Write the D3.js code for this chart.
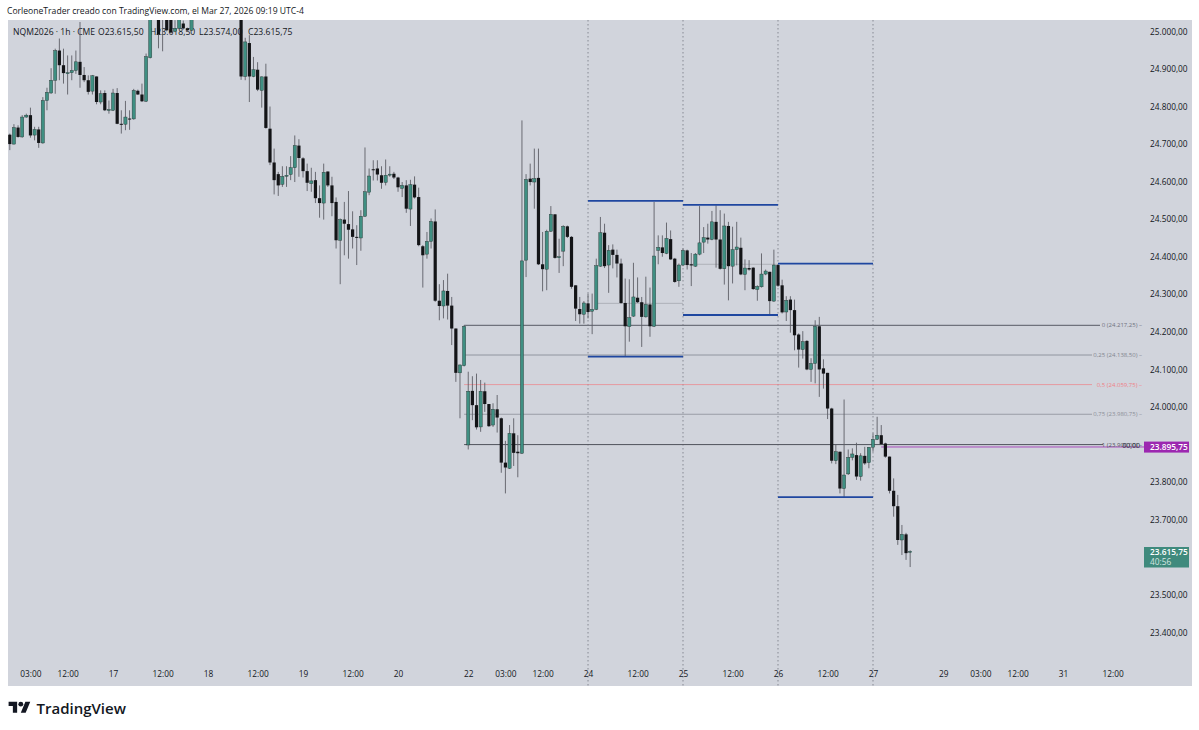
<!DOCTYPE html>
<html><head><meta charset="utf-8">
<script src="https://cdn.jsdelivr.net/npm/d3@7"></script>
<style>html,body{margin:0;padding:0;background:#fff}svg{display:block}text{font-family:"Open Sans","DejaVu Sans",sans-serif}</style>
</head><body><div id="c"></div>
<script>
const opens=[24725,24700,24744,24719,24772,24777,24724,24739,24703,24816,
24836,24870,24949,24910,24889,24890,24896,24919,24884,24870,
24841,24880,24812,24836,24790,24790,24836,24754,24753,24768,
24767,24842,24832,24814,24930,25060,25045,25040,25050,25050,
25000,25008,25021,25008,25003,25060,25090,25120,25140,25110,25130,25160,25150,25120,25100,25080,
25070,24880,24969,24880,
24898,24843,24880,24741,24651,24620,24593,24615,24619,24637,
24696,24662,24628,24595,24604,24556,24543,24627,24590,24546,
24444,24499,24487,24473,24453,24450,24508,24572,24633,24635,
24617,24598,24618,24621,24611,24582,24590,24527,24592,24559,
24428,24407,24441,24494,24283,24269,24309,24270,24209,24091,
24110,23899,24043,24005,23947,24042,24008,23952,23994,23970,
23852,23837,23930,23881,23877,24391,24608,24599,24610,24380,
24367,24468,24513,24398,24415,24481,24453,24324,24261,24247,
24276,24255,24260,24375,24464,24378,24419,24405,24382,24277,
24214,24242,24291,24279,24240,24273,24215,24417,24425,24409,
24447,24395,24336,24378,24417,24380,24375,24407,24439,24451,
24446,24493,24446,24368,24482,24375,24419,24424,24353,24370,
24371,24313,24320,24354,24360,24282,24378,24324,24253,24286,
24258,24193,24153,24176,24100,24116,24215,24103,24091,23996,
23857,23881,23783,23822,23866,23872,23815,23870,23852,23893,
23914,23925,23903,23868,23777,23736,23646,23661,23615.5];
const highs=[24728,24753,24750,24777,24781,24797,24746,24746,24825,24850,
24902,24954,24981,24954,24936,24936,24949,25025,24905,24883,
24884,24880,24843,24843,24816,24847,24849,24790,24815,24790,
24847,24845,24861,24941,25070,25090,25070,25080,25070,25070,
25030,25060,25029,25010,25060,25095,25125,25150,25160,25145,25170,25180,25175,25150,25125,25100,
25090,24983,24990,24932,
24918,24880,24914,24800,24688,24626,24641,24641,24668,24723,
24713,24665,24648,24637,24626,24590,24648,24627,24613,24558,
24502,24546,24575,24521,24484,24524,24691,24635,24657,24657,
24641,24659,24641,24626,24613,24599,24604,24605,24614,24584,
24431,24466,24502,24526,24327,24338,24355,24293,24209,24113,
24218,24094,24082,24089,24072,24065,24008,24010,24032,23972,
23910,23952,23970,23925,24763,24620,24648,24688,24688,24466,
24472,24535,24513,24448,24484,24483,24455,24324,24293,24282,
24302,24302,24395,24506,24488,24431,24433,24419,24395,24342,
24340,24384,24345,24293,24347,24318,24546,24457,24457,24491,
24470,24397,24382,24422,24419,24410,24410,24535,24479,24488,
24522,24537,24524,24515,24493,24480,24493,24451,24393,24391,
24372,24324,24409,24366,24360,24419,24380,24339,24295,24295,
24286,24196,24202,24178,24130,24231,24240,24127,24091,23998,
23899,23881,24020,23887,23890,23905,23877,23894,23893,23930,
23974,23952,23905,23868,23810,23766,23686,23665,23618.5];
const lows=[24684,24699,24717,24717,24770,24717,24710,24690,24701,24790,
24834,24834,24870,24861,24832,24870,24887,24850,24865,24832,
24832,24806,24806,24788,24781,24788,24753,24728,24737,24738,
24765,24831,24812,24812,24928,25040,24955,24947,25000,24994,
24998,25006,25005,25000,25001,25040,25070,25095,25110,25085,25100,25125,25110,25090,25070,25060,
24871,24870,24812,24878,
24841,24797,24741,24644,24566,24562,24586,24586,24604,24599,
24613,24611,24575,24573,24543,24504,24499,24586,24508,24422,
24327,24404,24395,24422,24378,24416,24506,24564,24603,24603,
24581,24590,24613,24607,24573,24559,24517,24482,24555,24428,
24318,24395,24422,24280,24231,24236,24233,24165,24067,23970,
24108,23887,23965,23940,23934,23987,23947,23947,23932,23825,
23770,23835,23843,23813,23875,24346,24590,24528,24378,24308,
24311,24466,24395,24357,24375,24450,24315,24229,24222,24222,
24236,24194,24258,24373,24370,24304,24369,24345,24275,24134,
24174,24240,24277,24160,24238,24187,24213,24380,24400,24407,
24392,24331,24320,24375,24366,24322,24373,24404,24410,24435,
24444,24371,24366,24326,24284,24329,24377,24351,24311,24363,
24312,24283,24318,24351,24245,24280,24320,24249,24229,24198,
24151,24105,24129,24098,24067,24063,24027,24049,23968,23850,
23848,23770,23760,23819,23858,23806,23804,23846,23837,23881,
23912,23900,23865,23770,23708,23633,23606,23593,23574];
const closes=[24700,24744,24719,24772,24777,24723,24739,24703,24816,24838,
24870,24949,24910,24889,24890,24896,24919,24884,24870,24839,
24882,24812,24834,24790,24792,24836,24754,24753,24772,24766,
24843,24832,24814,24933,25060,25075,24992,25050,25003,24997,
25008,25050,25008,25003,25050,25090,25120,25140,25110,25130,25160,25150,25120,25100,25080,25070,
24880,24972,24880,24898,
24845,24879,24743,24651,24604,24590,24614,24617,24637,24696,
24663,24628,24597,24602,24556,24543,24625,24590,24543,24444,
24499,24488,24472,24453,24451,24508,24573,24615,24631,24619,
24597,24617,24620,24611,24585,24590,24528,24592,24558,24431,
24404,24441,24494,24283,24269,24309,24270,24209,24091,24112,
24215,24042,24005,23946,24042,24008,23949,23994,23972,23852,
23839,23930,23878,23877,24389,24606,24599,24608,24380,24367,
24468,24513,24397,24400,24481,24453,24320,24262,24247,24277,
24253,24260,24376,24464,24375,24417,24405,24382,24277,24215,
24238,24293,24279,24240,24273,24215,24402,24425,24410,24449,
24393,24333,24378,24417,24378,24377,24407,24437,24451,24446,
24493,24446,24368,24482,24375,24419,24426,24353,24370,24366,
24314,24321,24354,24362,24282,24378,24323,24252,24284,24258,
24191,24153,24174,24100,24116,24215,24100,24089,23996,23857,
23881,23783,23819,23866,23875,23815,23870,23850,23893,23914,
23925,23901,23868,23777,23736,23646,23661,23611,23615.75];

const timeTickBars=[5,14,25,37,48,60,71,83,94,111,120,129,140,152,163,175,186,198,209,226,235,244,255,267];
const timeTickLabels=["03:00","12:00","17","12:00","18","12:00","19","12:00","20","22","03:00","12:00","24","12:00","25","12:00","26","12:00","27","29","03:00","12:00","31","12:00"];
const priceTicks=[25000,24900,24800,24700,24600,24500,24400,24300,24200,24100,24000,23800,23700,23600,23500,23400];
const dayLineBars=[140,163,186,209];
const rangeStartBars=[140,163,186];
const rangeEndBars=[163,186,209];
const rangeHighs=[24549,24538,24382];
const rangeLows=[24134,24245,23760];
const rangeMids=[24276,24380];
const fibPrices=[24217.25,24138.5,24059.75,23980.75,23900];
const fibLabels=["0 (24.217,25)","0,25 (24.138,50)","0,5 (24.059,75)","0,75 (23.980,75)","1 (23.900,00)"];
const fibColors=["#6f727c","#82858f","#ef7f86","#8c8f98","#50535c"];
const fibWidths=[1.1,0.8,0.7,0.8,1];
const legendParts=["NQM2026 · 1h · CME","O23.615,50","H23.618,50","L23.574,00","C23.615,75"];
const lastPrice=23615.75;
const markPrice=23895.75;

const W=1199,H=730,pane={l:8,r:1192,t:20,b:686};
const x=d3.scaleLinear().domain([0,209]).range([9.8,873]);
const y=d3.scaleLinear().domain([25000,23400]).range([31.4,632.4]);
const svg=d3.select("#c").append("svg").attr("width",W).attr("height",H);
svg.append("rect").attr("x",pane.l).attr("y",pane.t).attr("width",pane.r-pane.l).attr("height",pane.b-pane.t).attr("fill","#d1d4dc");
svg.append("clipPath").attr("id","p").append("rect").attr("x",pane.l).attr("y",pane.t).attr("width",pane.r-pane.l).attr("height",pane.b-pane.t);

// header
svg.append("text").attr("x",7).attr("y",14).attr("font-size",8.6).attr("fill","#131722").text("CorleoneTrader creado con TradingView.com, el Mar 27, 2026 09:19 UTC-4");
const legendX=[13,98,150,199,248];
svg.selectAll(".lg").data(legendParts).join("text").attr("x",(d,i)=>legendX[i]).attr("y",34.5).attr("font-size",8.6).attr("fill","#131722").text(d=>d);

const g=svg.append("g").attr("clip-path","url(#p)");
// day separators
g.selectAll(".day").data(dayLineBars).join("line").attr("x1",d=>x(d)).attr("x2",d=>x(d)).attr("y1",pane.t).attr("y2",pane.b)
 .attr("stroke","#868993").attr("stroke-width",1).attr("stroke-dasharray","1.5 2.5");
// faint midlines
const midStart=[142,163];
g.selectAll(".mid").data(rangeMids).join("line").attr("x1",(d,i)=>x(midStart[i])).attr("x2",(d,i)=>x(rangeEndBars[i])).attr("y1",d=>y(d)).attr("y2",d=>y(d)).attr("stroke","#a6a8b0").attr("stroke-width",.8);
// fib
g.selectAll(".fib").data(fibPrices).join("line").attr("x1",x(110)).attr("x2",(d,i)=>i==0?1100:(i==4?1103:1092)).attr("y1",d=>y(d)).attr("y2",d=>y(d))
 .attr("stroke",(d,i)=>fibColors[i]).attr("stroke-width",(d,i)=>fibWidths[i]);
svg.selectAll(".fl").data(fibPrices).join("text").attr("x",1142).attr("y",d=>y(d)+2).attr("text-anchor","end").attr("font-size",6).attr("fill",(d,i)=>fibColors[i]).text((d,i)=>fibLabels[i]+" –");
svg.append("text").attr("x",1140).attr("y",y(23895.75)+1.5).attr("text-anchor","end").attr("font-size",7).attr("fill","#2a2e39").text("00,00");
// purple
g.append("line").attr("x1",x(211)).attr("x2",1146).attr("y1",y(markPrice)+.8).attr("y2",y(markPrice)+.8).attr("stroke","#9c27b0").attr("stroke-width",.8);

// candles
const idx=d3.range(opens.length);
const cg=g.append("g");
cg.selectAll(".w").data(idx).join("line").attr("x1",i=>x(i)).attr("x2",i=>x(i)).attr("y1",i=>y(highs[i])).attr("y2",i=>y(lows[i])).attr("stroke","#5d5f66").attr("stroke-width",.9);
cg.selectAll(".b").data(idx).join("rect").attr("x",i=>x(i)-1.6).attr("width",3.2)
 .attr("y",i=>y(Math.max(opens[i],closes[i])))
 .attr("height",i=>Math.max(1,Math.abs(y(opens[i])-y(closes[i]))))
 .attr("fill",i=>closes[i]>=opens[i]?"#3f8f82":"#131417")
 .attr("stroke",i=>closes[i]>=opens[i]?"#24312f":"none").attr("stroke-width",.4);

// ranges
[0,1,2].forEach(k=>{
 [rangeHighs[k],rangeLows[k]].forEach(v=>{
  g.append("line").attr("x1",x(rangeStartBars[k])).attr("x2",x(rangeEndBars[k])).attr("y1",y(v)).attr("y2",y(v)).attr("stroke","#1f47a0").attr("stroke-width",1.8);
 });
});

// axes
const fmt=d3.formatLocale({decimal:",",thousands:".",grouping:[3]}).format(",.2f");
const ax=svg.append("g").attr("transform",`translate(1150,0)`).call(d3.axisRight(y).tickValues(priceTicks).tickSize(0).tickPadding(0).tickFormat(fmt));
ax.select(".domain").remove();
ax.selectAll("text").attr("font-size",8.3).attr("fill","#131722").attr("font-family",'"Open Sans",sans-serif');
const bx=svg.append("g").attr("transform",`translate(0,671.5)`).call(d3.axisBottom(x).tickValues(timeTickBars).tickSize(0).tickPadding(0).tickFormat((d,i)=>timeTickLabels[i]));
bx.select(".domain").remove();
bx.selectAll("text").attr("font-size",8.3).attr("fill","#131722").attr("font-family",'"Open Sans",sans-serif');

// tags
const tag=(yy,h,col)=>svg.append("rect").attr("x",1144).attr("y",yy).attr("width",45).attr("height",h).attr("fill",col);
tag(y(markPrice)-4.6,11,"#9c27b0");
svg.append("text").attr("x",1150).attr("y",y(markPrice)+3.8).attr("font-size",8.3).attr("font-weight",600).attr("fill","#fff").text(fmt(markPrice));
tag(547,20.5,"#3f8a7d");
svg.append("text").attr("x",1150).attr("y",555).attr("font-size",8.3).attr("font-weight",600).attr("fill","#fff").text(fmt(lastPrice));
svg.append("text").attr("x",1150).attr("y",565).attr("font-size",8.3).attr("fill","#d6e6e2").text("40:56");

// logo
const logo=svg.append("g").attr("transform","translate(8.6,699.3) scale(.61)").attr("fill","#131722");
logo.append("path").attr("d","M14 22H7V11H0V4h14v18zM28 22h-8l7.5-18h8L28 22z");
logo.append("circle").attr("cx",20).attr("cy",8).attr("r",4);
svg.append("text").attr("x",36.5).attr("y",713.5).attr("font-size",15).attr("font-weight",600).attr("font-family","Inter,sans-serif").attr("fill","#131722").text("TradingView");
</script></body></html>
